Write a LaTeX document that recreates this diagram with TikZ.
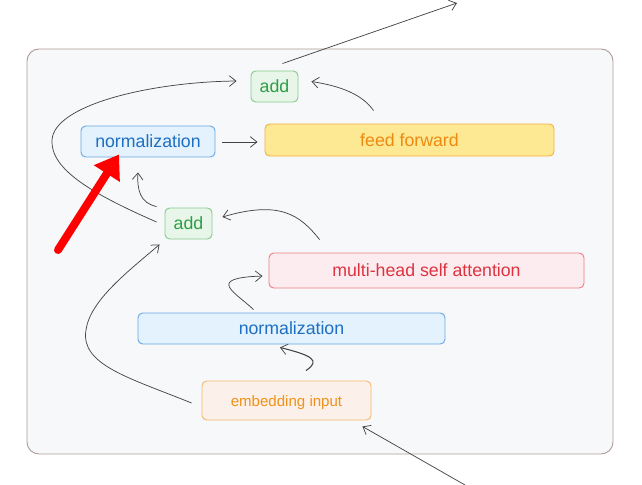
\documentclass[tikz,border=0pt]{standalone}
\usepackage{fontspec}
\setmainfont{Liberation Sans}
\usetikzlibrary{arrows.meta,calc}
\definecolor{frameline}{HTML}{B09C94}
\definecolor{framefill}{HTML}{F7F8FA}
\definecolor{addfill}{HTML}{E8F6EA}
\definecolor{addline}{HTML}{86CC8C}
\definecolor{addtext}{HTML}{2E9E44}
\definecolor{normfill}{HTML}{E3F2FD}
\definecolor{normline}{HTML}{6AA8E2}
\definecolor{normtext}{HTML}{1E6FC2}
\definecolor{fffill}{HTML}{FDE994}
\definecolor{ffline}{HTML}{F5B041}
\definecolor{fftext}{HTML}{EE8A10}
\definecolor{mhafill}{HTML}{FDECEF}
\definecolor{mhaline}{HTML}{EE7C84}
\definecolor{mhatext}{HTML}{DD3340}
\definecolor{embfill}{HTML}{FBF0EA}
\definecolor{embline}{HTML}{F5B86A}
\definecolor{embtext}{HTML}{F0921A}
\definecolor{conn}{HTML}{444444}
\tikzset{
  box/.style={rectangle, rounded corners=3.5pt, inner sep=0pt, line width=0.7pt,
    font=\fontsize{13.3}{16}\selectfont},
  addbox/.style={box, draw=addline, fill=addfill, text=addtext,
    minimum width=35.25pt, minimum height=23.25pt},
  normbox/.style={box, draw=normline, fill=normfill, text=normtext},
  ffbox/.style={box, draw=ffline, fill=fffill, text=fftext},
  mhabox/.style={box, draw=mhaline, fill=mhafill, text=mhatext},
  embbox/.style={box, draw=embline, fill=embfill, text=embtext,
    font=\fontsize{11.3}{14}\selectfont},
  conn/.style={draw=conn, line width=0.55pt,
    -{Straight Barb[length=5pt,width=8pt,line width=0.55pt]}},
  redarrow/.style={draw=red, line width=6pt, line cap=round,
    -{Triangle[length=17pt,width=22pt]}}
}
\begin{document}
\begin{tikzpicture}[x=0.75pt,y=-0.75pt]
\useasboundingbox (0,0) rectangle (642,485);
\draw[draw=frameline, fill=framefill, line width=0.7pt, rounded corners=9pt]
  (27,49) rectangle (613,454);

\node[addbox] (addtop) at (274.5,86.5) {add};
\node[normbox, minimum width=100.5pt, minimum height=23.25pt] (normtop) at (148,141.5) {normalization};
\node[ffbox, minimum width=216.75pt, minimum height=24pt] (ff) at (409.5,140) {feed forward};
\node[addbox] (addmid) at (188.5,223.5) {add};
\node[mhabox, minimum width=236.25pt, minimum height=26.25pt] (mha) at (426.5,270.5) {multi-head self attention};
\node[normbox, minimum width=230.25pt, minimum height=23.25pt] (normbot) at (291.5,328.5) {normalization};
\node[embbox, minimum width=126.75pt, minimum height=29.25pt, text depth=0pt, text height=9pt] (emb) at (286.5,400.5) {embedding input};

\coordinate (out) at (457,3);
\coordinate (in) at (465,485);
\coordinate (redtail) at (58,250);

% output
\draw[conn] ($(addtop.north)+(8,-7)$) -- (out);
% feed forward -> add
\draw[conn] ($(ff.north)+(-36,-13)$) .. controls (362,94) and (340,86) .. ($(addtop.east)+(13,-5)$);
% norm -> feed forward
\draw[conn] ($(normtop.east)+(7,0.5)$) -- ($(ff.west)+(-7,2)$);
% residual add -> add
\draw[conn] ($(addmid.west)+(-8,-1.5)$) .. controls (95,195) and (50,170) .. (52,140)
  .. controls (54,105) and (150,82) .. ($(addtop.west)+(-14,-5.5)$);
% add -> norm
\draw[conn] ($(addmid.north west)+(-8,-1)$) .. controls (140,203) and (137,190) .. ($(normtop.south)+(-10,15)$);
% attention -> add
\draw[conn] ($(mha.north west)+(51,-13)$) .. controls (300,215) and (280,200) .. ($(addmid.east)+(10,-6.5)$);
% embedding -> add (residual)
\draw[conn] ($(emb.west)+(-10,2.5)$) .. controls (130,378) and (80,365) .. (86,330)
  .. controls (90,300) and (130,270) .. ($(addmid.south west)+(-5,5)$);
% norm -> attention
\draw[conn] ($(normbot.north)+(-38,-3)$) .. controls (235,292) and (205,278) .. ($(mha.west)+(-6,5.5)$);
% embedding -> norm
\draw[conn, line width=0.8pt] ($(emb.north)+(19.5,-10)$) .. controls (322,360) and (310,355) .. ($(normbot.south)+(-11.5,3)$);
% input -> embedding
\draw[conn] (in) -- ($(emb.south east)+(-9,6)$);
% red pointer
\draw[redarrow] (redtail) -- ($(normtop.south)+(-29,-3)$);
\end{tikzpicture}
\end{document}
